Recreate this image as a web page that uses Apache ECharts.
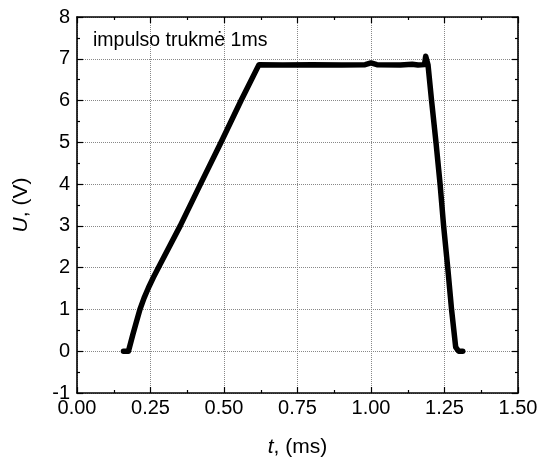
<!DOCTYPE html>
<html>
<head>
<meta charset="utf-8">
<script src="https://cdn.jsdelivr.net/npm/echarts@6/dist/echarts.min.js"></script>
<style>
html,body{margin:0;padding:0;background:#fff;}
#main{width:541px;height:466px;}
</style>
</head>
<body>
<div id="main"></div>
<script>
// duomenys nuskaityti nuo grafiko
var tValues = [0.158, 0.175, 0.19, 0.2, 0.214, 0.228, 0.243, 0.26, 0.282, 0.351, 0.420, 0.490, 0.558, 0.619,
    0.70, 0.80, 0.90, 0.98, 1.00, 1.02, 1.10, 1.14, 1.16, 1.182, 1.186, 1.194,
    1.206, 1.221, 1.235, 1.247, 1.261, 1.274, 1.288, 1.298, 1.312];
var uValues = [0, 0, 0.4, 0.65, 1.0, 1.27, 1.52, 1.77, 2.07, 3.0, 4.0, 5.0, 6.0, 6.86,
    6.85, 6.86, 6.85, 6.86, 6.9, 6.86, 6.85, 6.87, 6.85, 6.86, 7.06, 6.85,
    6.0, 5.0, 4.0, 3.0, 2.0, 1.0, 0.1, 0, 0];
var xTicks = [0, 0.25, 0.5, 0.75, 1.0, 1.25, 1.5];
var yTicks = [-1, 0, 1, 2, 3, 4, 5, 6, 7, 8];

var seriesData = tValues.map(function (t, i) { return [t, uValues[i]]; });

var myChart = echarts.init(document.getElementById('main'));

var fontFam = 'Liberation Sans, Arial, sans-serif';
var tickOpt = { show: true, inside: true, length: 6, lineStyle: { color: '#000', width: 1.2 } };
var minorOpt = { show: true, splitNumber: 2, length: 3, lineStyle: { color: '#000', width: 1.2 } };
var lineOpt = { show: true, onZero: false, lineStyle: { color: '#000', width: 1.6 } };
var gridLine = { show: true, lineStyle: { color: '#888', type: 'dotted', width: 1 } };

var option = {
    animation: false,
    backgroundColor: '#fff',
    textStyle: { fontFamily: fontFam },
    grid: { left: 77, right: 23, top: 17, bottom: 73, containLabel: false },
    title: {
        text: 'impulso trukmė 1ms',
        left: 93, top: 31, padding: 0,
        textStyle: { fontFamily: fontFam, fontSize: 19.5, fontWeight: 'normal', color: '#000' }
    },
    xAxis: [{
        type: 'value', min: xTicks[0], max: xTicks[xTicks.length - 1], interval: 0.25,
        position: 'bottom',
        axisLine: lineOpt, axisTick: tickOpt, minorTick: minorOpt,
        splitLine: gridLine,
        axisLabel: {
            color: '#000', fontSize: 20, fontFamily: fontFam, margin: 5,
            formatter: function (v) { return v.toFixed(2); }
        },
        name: '{i|t}, (ms)',
        nameLocation: 'middle', nameGap: 44,
        nameTextStyle: {
            color: '#000', fontSize: 21, fontFamily: fontFam,
            rich: { i: { fontStyle: 'italic', fontSize: 21, fontFamily: fontFam, color: '#000' } }
        }
    }, {
        type: 'value', min: xTicks[0], max: xTicks[xTicks.length - 1], interval: 0.25,
        position: 'top',
        axisLine: lineOpt, axisTick: tickOpt, minorTick: minorOpt,
        splitLine: { show: false }, axisLabel: { show: false }
    }],
    yAxis: [{
        type: 'value', min: yTicks[0], max: yTicks[yTicks.length - 1], interval: 1,
        position: 'left',
        axisLine: lineOpt, axisTick: tickOpt, minorTick: minorOpt,
        splitLine: gridLine,
        axisLabel: { color: '#000', fontSize: 20, fontFamily: fontFam, margin: 7 },
        name: '{i|U}, (V)',
        nameLocation: 'middle', nameGap: 45, nameRotate: 90,
        nameTextStyle: {
            color: '#000', fontSize: 21, fontFamily: fontFam,
            rich: { i: { fontStyle: 'italic', fontSize: 21, fontFamily: fontFam, color: '#000' } }
        }
    }, {
        type: 'value', min: yTicks[0], max: yTicks[yTicks.length - 1], interval: 1,
        position: 'right',
        axisLine: lineOpt, axisTick: tickOpt, minorTick: minorOpt,
        splitLine: { show: false }, axisLabel: { show: false }
    }],
    series: [{
        type: 'line',
        xAxisIndex: 0, yAxisIndex: 0,
        data: seriesData,
        showSymbol: false,
        lineStyle: { color: '#000', width: 5.5, join: 'round', cap: 'round' },
        itemStyle: { color: '#000' }
    }]
};

myChart.setOption(option);
</script>
</body>
</html>
